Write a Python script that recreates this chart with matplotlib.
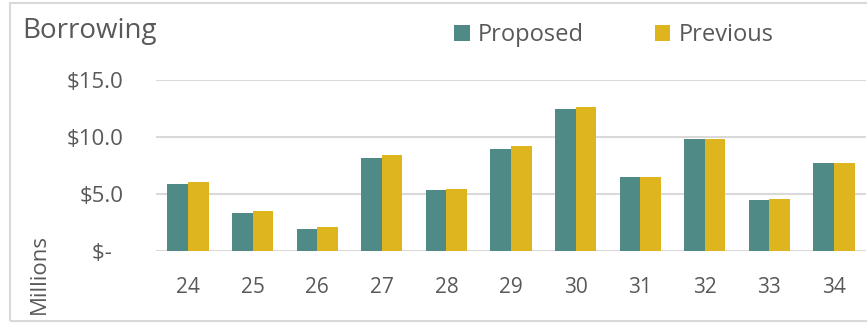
import matplotlib
matplotlib.use("Agg")
import matplotlib.pyplot as plt
from matplotlib.patches import Rectangle, Patch

# Borrowing by year, in millions of dollars
years = ["24", "25", "26", "27", "28", "29", "30", "31", "32", "33", "34"]
proposed = [5.85, 3.3, 1.9, 8.2, 5.35, 8.97, 12.5, 6.45, 9.8, 4.45, 7.75]
previous = [6.05, 3.5, 2.08, 8.42, 5.4, 9.2, 12.65, 6.45, 9.85, 4.56, 7.75]
y_ticks = [0, 5, 10, 15]
y_tick_labels = ["$-  ", "$5.0", "$10.0", "$15.0"]
series_names = ["Proposed", "Previous"]

TEAL = "#4f8a87"
GOLD = "#deb41f"
TEXT = "#595959"
GRID = "#d9d9d9"

plt.rcParams["font.family"] = ["Open Sans", "DejaVu Sans"]

W, H = 867, 324
fig = plt.figure(figsize=(W / 100, H / 100), dpi=100)

# plot area in pixel terms
left_px, right_px = 155.7, 866.3
bottom_px, top_px = 251, 80
ax = fig.add_axes([left_px / W, 1 - bottom_px / H,
                   (right_px - left_px) / W, (bottom_px - top_px) / H])

x = list(range(len(years)))
bw = 0.32
ax.bar([i - bw / 2 for i in x], proposed, width=bw, color=TEAL, zorder=3)
ax.bar([i + bw / 2 for i in x], previous, width=bw, color=GOLD, zorder=3)

ax.set_xlim(-0.5, len(years) - 0.5)
ax.set_ylim(0, 15)
ax.set_yticks(y_ticks)
ax.set_yticklabels(y_tick_labels)
ax.set_xticks(x)
ax.set_xticklabels(years)
ax.yaxis.grid(True, color=GRID, linewidth=1.5, zorder=0)
ax.set_axisbelow(True)
for s in ax.spines.values():
    s.set_visible(False)
ax.tick_params(axis="both", length=0, colors=TEXT, labelsize=15)
ax.tick_params(axis="y", pad=23, labelsize=16)
ax.tick_params(axis="x", pad=19)

# title, axis unit and legend
fig.text(22 / W, 1 - 38 / H, "Borrowing", fontsize=20, color=TEXT,
         ha="left", va="baseline")
fig.text(39 / W, 1 - 274 / H, "Millions", fontsize=16, color=TEXT,
         rotation=90, ha="center", va="center")

handles = [Patch(facecolor=TEAL, edgecolor="none"),
           Patch(facecolor=GOLD, edgecolor="none")]
fig.legend(handles, series_names, loc="center",
           bbox_to_anchor=(614 / W, 1 - 35 / H), ncol=2, frameon=False,
           fontsize=17, labelcolor=TEXT, handlelength=0.65, handleheight=0.65,
           handletextpad=0.35, columnspacing=3.0, borderpad=0)

# light chart frame
fig.patches.append(Rectangle((10 / W, 3 / H), (W + 5 - 10) / W, (321 - 3) / H,
                             transform=fig.transFigure, fill=False,
                             edgecolor=GRID, linewidth=1.5))

fig.savefig("out.png", dpi=100, facecolor="white")
